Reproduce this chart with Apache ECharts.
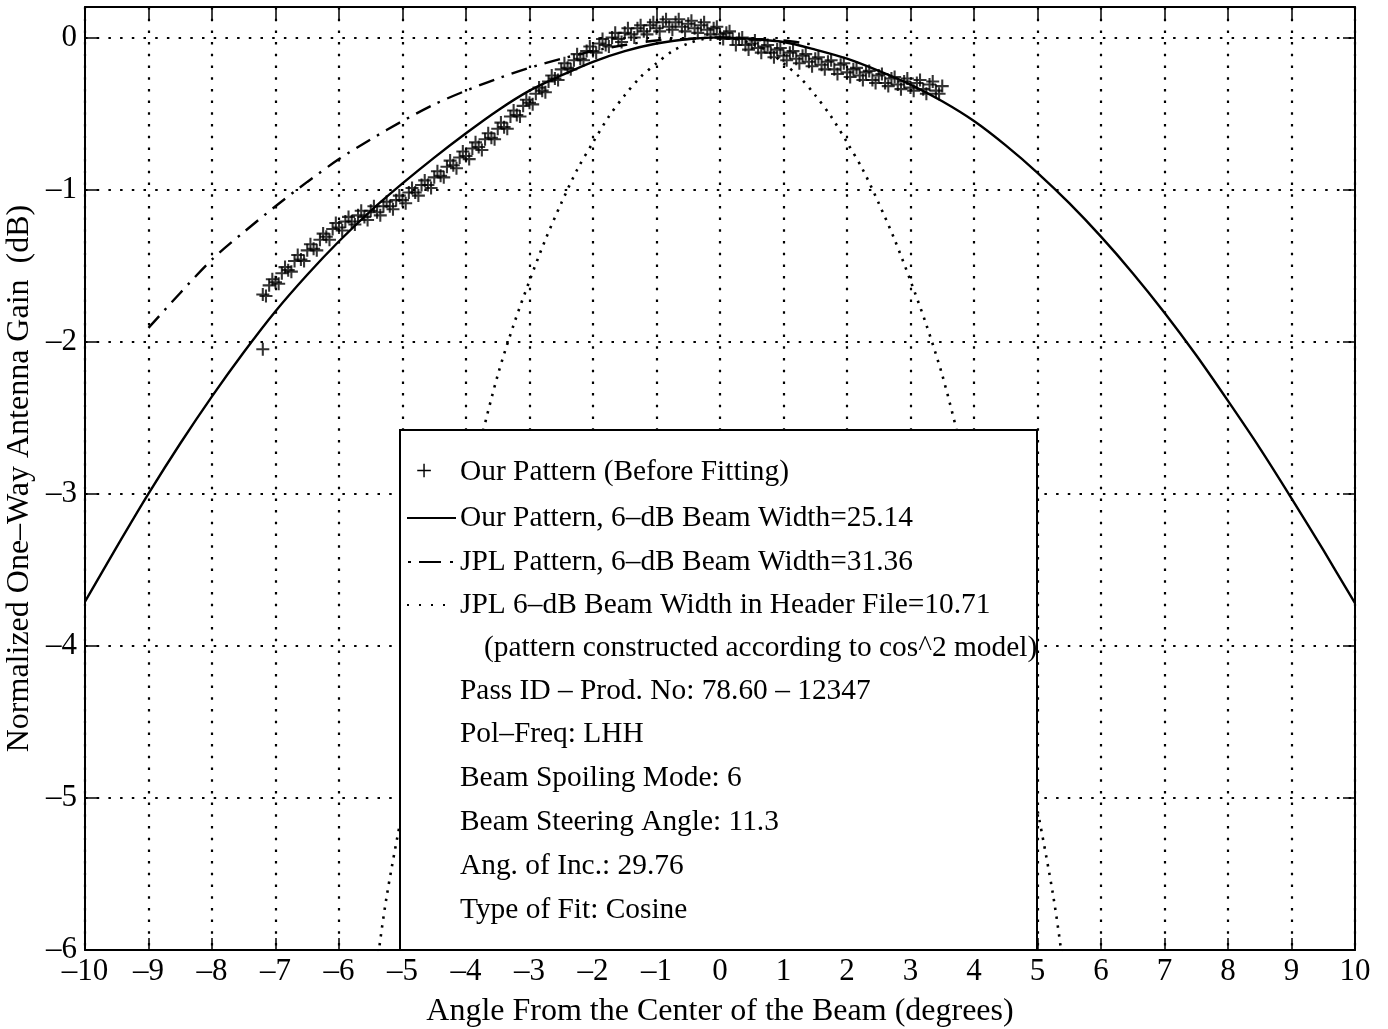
<!DOCTYPE html>
<html>
<head>
<meta charset="utf-8">
<script src="https://cdn.jsdelivr.net/npm/echarts@6/dist/echarts.min.js"></script>
<style>
html,body{margin:0;padding:0;background:#fff;}
#chart{width:1388px;height:1029px;}
</style>
</head>
<body>
<div id="chart"></div>
<script>
// ---- Data ----
const xTicks = [-10,-9,-8,-7,-6,-5,-4,-3,-2,-1,0,1,2,3,4,5,6,7,8,9,10];
const yTicks = [-6,-5,-4,-3,-2,-1,0];

// Our Pattern (Before Fitting) : measured points (+), first row
const rawAngle = [-7.2,-7.1,-7.0,-6.9,-6.8,-6.7,-6.6,-6.5,-6.4,-6.3,-6.2,-6.1,-6.0,-5.9,-5.8,-5.7,-5.6,-5.5,-5.4,-5.3,-5.2,-5.1,-5.0,-4.9,-4.8,-4.7,-4.6,-4.5,-4.4,-4.3,-4.2,-4.1,-4.0,-3.9,-3.8,-3.7,-3.6,-3.5,-3.4,-3.3,-3.2,-3.1,-3.0,-2.9,-2.8,-2.7,-2.6,-2.5,-2.4,-2.3,-2.2,-2.1,-2.0,-1.9,-1.8,-1.7,-1.6,-1.5,-1.4,-1.3,-1.2,-1.1,-1.0,-0.9,-0.8,-0.7,-0.6,-0.5,-0.4,-0.3,-0.2,-0.1,0.0,0.1,0.2,0.3,0.4,0.5,0.6,0.7,0.8,0.9,1.0,1.1,1.2,1.3,1.4,1.5,1.6,1.7,1.8,1.9,2.0,2.1,2.2,2.3,2.4,2.5,2.6,2.7,2.8,2.9,3.0,3.1,3.2,3.3,3.4,3.5,-7.2];
const rawGain  = [-1.69,-1.63,-1.61,-1.55,-1.53,-1.47,-1.46,-1.40,-1.39,-1.33,-1.31,-1.26,-1.25,-1.21,-1.21,-1.17,-1.18,-1.14,-1.15,-1.11,-1.11,-1.07,-1.07,-1.02,-1.02,-0.97,-0.97,-0.92,-0.91,-0.85,-0.84,-0.79,-0.78,-0.73,-0.72,-0.67,-0.66,-0.60,-0.59,-0.52,-0.51,-0.45,-0.43,-0.37,-0.35,-0.29,-0.27,-0.21,-0.20,-0.15,-0.14,-0.09,-0.09,-0.04,-0.05,0.00,-0.01,0.03,0.02,0.06,0.04,0.08,0.06,0.10,0.07,0.10,0.07,0.09,0.06,0.08,0.05,0.06,0.02,0.03,-0.01,-0.01,-0.05,-0.04,-0.07,-0.06,-0.10,-0.08,-0.12,-0.10,-0.14,-0.12,-0.16,-0.14,-0.18,-0.16,-0.21,-0.18,-0.23,-0.21,-0.25,-0.23,-0.28,-0.25,-0.30,-0.27,-0.31,-0.29,-0.33,-0.30,-0.34,-0.31,-0.35,-0.32,-2.05];
// measured points, second (interleaved) row
const rawAngle2 = [-7.15,-7.05,-6.95,-6.85,-6.75,-6.65,-6.55,-6.45,-6.35,-6.25,-6.15,-6.05,-5.95,-5.85,-5.75,-5.65,-5.55,-5.45,-5.35,-5.25,-5.15,-5.05,-4.95,-4.85,-4.75,-4.65,-4.55,-4.45,-4.35,-4.25,-4.15,-4.05,-3.95,-3.85,-3.75,-3.65,-3.55,-3.45,-3.35,-3.25,-3.15,-3.05,-2.95,-2.85,-2.75,-2.65,-2.55,-2.45,-2.35,-2.25,-2.15,-2.05,-1.95,-1.85,-1.75,-1.65,-1.55,-1.45,-1.35,-1.25,-1.15,-1.05,-0.95,-0.85,-0.75,-0.65,-0.55,-0.45,-0.35,-0.25,-0.15,-0.05,0.05,0.15,0.25,0.35,0.45,0.55,0.65,0.75,0.85,0.95,1.05,1.15,1.25,1.35,1.45,1.55,1.65,1.75,1.85,1.95,2.05,2.15,2.25,2.35,2.45,2.55,2.65,2.75,2.85,2.95,3.05,3.15,3.25,3.35,3.45];
const rawGain2  = [-1.70,-1.59,-1.62,-1.51,-1.54,-1.43,-1.47,-1.36,-1.40,-1.29,-1.33,-1.22,-1.27,-1.18,-1.23,-1.14,-1.20,-1.11,-1.17,-1.08,-1.13,-1.04,-1.09,-0.99,-1.04,-0.94,-0.99,-0.88,-0.92,-0.81,-0.86,-0.75,-0.80,-0.69,-0.74,-0.63,-0.67,-0.56,-0.60,-0.48,-0.52,-0.41,-0.44,-0.33,-0.36,-0.25,-0.28,-0.17,-0.21,-0.11,-0.15,-0.06,-0.10,-0.01,-0.06,0.03,-0.03,0.06,0.00,0.08,0.02,0.10,0.04,0.12,0.05,0.12,0.04,0.11,0.03,0.10,0.02,0.07,-0.01,0.04,-0.05,0.00,-0.08,-0.02,-0.10,-0.05,-0.13,-0.07,-0.15,-0.09,-0.17,-0.11,-0.19,-0.13,-0.21,-0.15,-0.24,-0.17,-0.26,-0.20,-0.28,-0.22,-0.30,-0.24,-0.32,-0.26,-0.34,-0.27,-0.35,-0.28,-0.37,-0.29,-0.37];

// Our Pattern (fitted, cosine), 6-dB beam width 25.14
const fitAngle = [-10,-9.5,-9,-8.5,-8,-7.5,-7,-6.5,-6,-5.5,-5,-4.5,-4,-3.5,-3,-2.5,-2,-1.5,-1,-0.5,0,0.5,1,1.5,2,2.5,3,3.5,4,4.5,5,5.5,6,6.5,7,7.5,8,8.5,9,9.5,10];
const fitGain  = [-3.71,-3.35,-3.00,-2.67,-2.36,-2.07,-1.80,-1.56,-1.34,-1.14,-0.96,-0.79,-0.63,-0.48,-0.35,-0.25,-0.16,-0.09,-0.04,-0.01,0,-0.01,-0.03,-0.08,-0.14,-0.22,-0.31,-0.42,-0.55,-0.71,-0.89,-1.09,-1.31,-1.55,-1.81,-2.09,-2.39,-2.70,-3.03,-3.37,-3.72];

// JPL Pattern, 6-dB beam width 31.36 (dash-dot)
const jplAngle = [-9.0,-8.5,-8.0,-7.5,-7.0,-6.5,-6.0,-5.5,-5.0,-4.5,-4.0,-3.5,-3.0,-2.5,-2.0,-1.5,-1.0,-0.5,0,0.5,1.0,1.5];
const jplGain  = [-1.91,-1.68,-1.46,-1.28,-1.11,-0.95,-0.80,-0.67,-0.55,-0.44,-0.35,-0.27,-0.20,-0.14,-0.09,-0.05,-0.02,-0.01,0,-0.01,-0.02,-0.05];

// JPL 6-dB beam width in header file = 10.71 (dotted, cos^2 model)
const hdrAngle = [-5.6,-5.4,-5.25,-5.0,-4.75,-4.5,-4.25,-4.0,-3.75,-3.5,-3.25,-3.0,-2.75,-2.5,-2.25,-2.0,-1.75,-1.5,-1.25,-1.0,-0.75,-0.5,-0.25,0,0.25,0.5,0.75,1.0,1.25,1.5,1.75,2.0,2.25,2.5,2.75,3.0,3.25,3.5,3.75,4.0,4.25,4.5,4.75,5.0,5.25,5.4,5.6];
const hdrGain  = [-6.9,-6.1,-5.65,-5.08,-4.55,-4.05,-3.55,-3.05,-2.62,-2.22,-1.89,-1.60,-1.33,-1.09,-0.87,-0.69,-0.52,-0.38,-0.26,-0.17,-0.09,-0.04,-0.01,0,-0.01,-0.04,-0.09,-0.17,-0.26,-0.38,-0.52,-0.69,-0.87,-1.09,-1.33,-1.60,-1.89,-2.22,-2.62,-3.05,-3.55,-4.05,-4.55,-5.08,-5.65,-6.1,-6.9];

const legendLines = [
  "Our Pattern (Before Fitting)",
  "Our Pattern, 6\u2013dB Beam Width=25.14",
  "JPL Pattern, 6\u2013dB Beam Width=31.36",
  "JPL 6\u2013dB Beam Width in Header File=10.71"
];
const infoLines = [
  "(pattern constructed according to cos^2 model)",
  "Pass ID \u2013 Prod. No: 78.60 \u2013 12347",
  "Pol\u2013Freq: LHH",
  "Beam Spoiling Mode: 6",
  "Beam Steering Angle: 11.3",
  "Ang. of Inc.: 29.76",
  "Type of Fit: Cosine"
];

// ---- Chart ----
const FONT = '"Liberation Serif", "Times New Roman", serif';
const FS = 29.4;    // legend text
const FSA = 31;     // tick labels
const FST = 32;     // axis titles
const zip = (a, b) => a.map((v, i) => [v, b[i]]);
const fmt = v => {
  if (Math.abs(v - Math.round(v)) > 1e-6) return '';
  return v < 0 ? '\u2013' + Math.abs(v) : String(v);
};
const gridDots = { color: '#000', width: 2.2, type: [2.5, 9.2] };

const chart = echarts.init(document.getElementById('chart'), null, { renderer: 'canvas' });

const graphics = [];
const BX = 400, BY = 430, BW = 637, BH = 520;
graphics.push({ type: 'rect', z: 100, shape: { x: BX, y: BY, width: BW, height: BH },
  style: { fill: '#fff', stroke: '#000', lineWidth: 2 } });
const rowY = [472, 518, 562, 605, 648, 691, 734, 778, 822, 866, 910];
const txt = (t, x, y, align) => ({ type: 'text', z: 101, x: x, y: y,
  style: { text: t, font: FS + 'px ' + FONT, fill: '#000', align: align || 'left', verticalAlign: 'middle' } });
// legend samples
graphics.push(txt('+', 424, rowY[0], 'center'));
graphics.push({ type: 'line', z: 101, shape: { x1: 407, y1: rowY[1], x2: 456, y2: rowY[1] },
  style: { stroke: '#000', lineWidth: 2 } });
[[408, 411], [419, 441], [450, 453]].forEach(s => graphics.push({ type: 'line', z: 101,
  shape: { x1: s[0], y1: rowY[2], x2: s[1], y2: rowY[2] }, style: { stroke: '#000', lineWidth: 2 } }));
graphics.push({ type: 'line', z: 101, shape: { x1: 407, y1: rowY[3], x2: 454, y2: rowY[3] },
  style: { stroke: '#000', lineWidth: 2, lineDash: [2, 10] } });
legendLines.forEach((t, i) => graphics.push(txt(t, 460, rowY[i])));
infoLines.forEach((t, i) => graphics.push(txt(t, i === 0 ? 484 : 460, rowY[4 + i])));

const option = {
  animation: false,
  backgroundColor: '#fff',
  grid: { left: 85, right: 33, top: 7, bottom: 79, containLabel: false, outerBoundsMode: 'none' },
  xAxis: [
    { type: 'value', position: 'bottom', min: -10, max: 10, interval: 1,
      name: 'Angle From the Center of the Beam (degrees)', nameLocation: 'middle', nameGap: 46,
      nameTextStyle: { fontFamily: FONT, fontSize: FST, color: '#000' },
      axisLine: { show: true, onZero: false, lineStyle: { color: '#000', width: 2 } },
      axisTick: { show: true, inside: true, length: 12, lineStyle: { color: '#000', width: 1.5 } },
      axisLabel: { show: true, margin: 6, fontFamily: FONT, fontSize: FSA, color: '#000', formatter: fmt,
        customValues: xTicks },
      splitLine: { show: true, lineStyle: gridDots } },
    { type: 'value', position: 'top', min: -10, max: 10, interval: 1,
      axisLine: { show: true, onZero: false, lineStyle: { color: '#000', width: 2 } },
      axisTick: { show: true, inside: true, length: 12, lineStyle: { color: '#000', width: 1.5 } },
      axisLabel: { show: false }, splitLine: { show: false } }
  ],
  yAxis: [
    { type: 'value', position: 'left', min: -6, max: 0.2, interval: 1,
      name: 'Normalized One\u2013Way Antenna Gain  (dB)', nameLocation: 'middle', nameGap: 47, nameRotate: 90,
      nameTextStyle: { fontFamily: FONT, fontSize: FST, color: '#000' },
      axisLine: { show: true, onZero: false, lineStyle: { color: '#000', width: 2 } },
      axisTick: { show: true, inside: true, length: 12, lineStyle: { color: '#000', width: 1.5 } },
      axisLabel: { show: true, margin: 8, fontFamily: FONT, fontSize: FSA, color: '#000', formatter: fmt },
      splitLine: { show: true, lineStyle: gridDots } },
    { type: 'value', position: 'right', min: -6, max: 0.2, interval: 1,
      axisLine: { show: true, onZero: false, lineStyle: { color: '#000', width: 2 } },
      axisTick: { show: true, inside: true, length: 12, lineStyle: { color: '#000', width: 1.5 } },
      axisLabel: { show: false }, splitLine: { show: false } }
  ],
  series: [
    { name: 'JPL header', type: 'line', data: zip(hdrAngle, hdrGain), showSymbol: false, smooth: 0.3,
      clip: true, z: 2, lineStyle: { color: '#000', width: 2.6, type: [2.4, 6.5] } },
    { name: 'JPL pattern', type: 'line', data: zip(jplAngle, jplGain), showSymbol: false, smooth: 0.3,
      clip: true, z: 2, lineStyle: { color: '#000', width: 2.4, type: [16, 8, 2.5, 8] } },
    { name: 'Our fit', type: 'line', data: zip(fitAngle, fitGain), showSymbol: false, smooth: 0.3,
      clip: true, z: 3, lineStyle: { color: '#000', width: 2.4 } },
    { name: 'Our raw', type: 'scatter', data: zip(rawAngle, rawGain).concat(zip(rawAngle2, rawGain2)), z: 4,
      symbol: 'path://M0,4.2H10V5.8H0Z M4.2,0H5.8V10H4.2Z', symbolSize: 13,
      itemStyle: { color: '#000' } }
  ],
  graphic: graphics
};
chart.setOption(option);
</script>
</body>
</html>
